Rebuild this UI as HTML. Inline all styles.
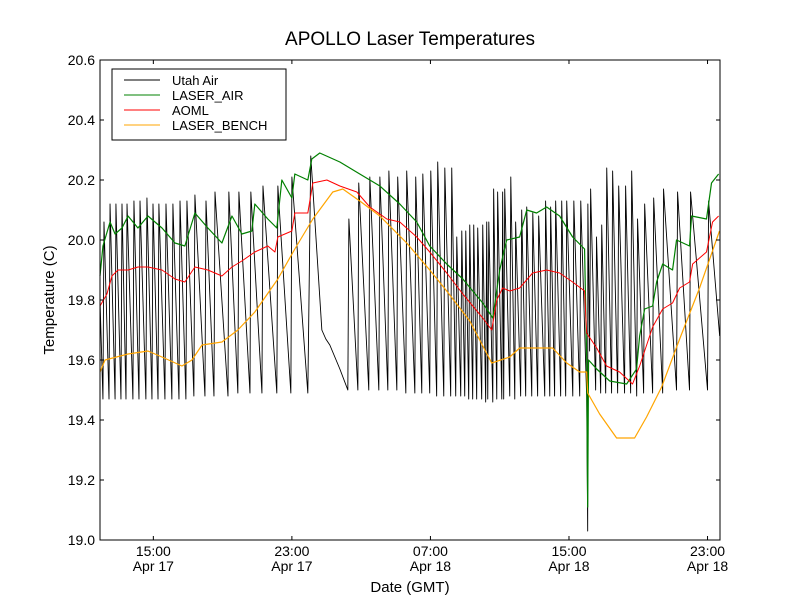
<!DOCTYPE html>
<html><head><meta charset="utf-8"><style>
body{margin:0;background:#fff;}
svg{display:block;font-family:"Liberation Sans","DejaVu Sans",sans-serif;}
</style></head><body>
<svg id="chart" width="800" height="600" viewBox="0 0 800 600">
<rect x="0" y="0" width="800" height="600" fill="#fff"/>
<text x="410" y="45" text-anchor="middle" font-size="19">APOLLO Laser Temperatures</text>
<text x="410" y="592" text-anchor="middle" font-size="15">Date (GMT)</text>
<text transform="translate(54,300) rotate(-90)" text-anchor="middle" font-size="15">Temperature (C)</text>
<g id="series"></g>
<g id="axes"></g>
<rect x="100" y="60" width="620" height="480" fill="none" stroke="#000" stroke-width="1"/>
<g>
<rect x="112" y="69" width="174" height="71" fill="#fff" stroke="#000" stroke-width="1"/>
<g><line x1="124" y1="80" x2="160" y2="80" stroke="#000" stroke-width="1"/><text x="172" y="85" font-size="13">Utah Air</text></g>
<g><line x1="124" y1="95" x2="160" y2="95" stroke="green" stroke-width="1"/><text x="172" y="100" font-size="13">LASER_AIR</text></g>
<g><line x1="124" y1="110" x2="160" y2="110" stroke="red" stroke-width="1"/><text x="172" y="115" font-size="13">AOML</text></g>
<g><line x1="124" y1="125" x2="160" y2="125" stroke="orange" stroke-width="1"/><text x="172" y="130" font-size="13">LASER_BENCH</text></g>
</g>
</svg>
<script>
// hours since Apr 17 00:00 GMT
const xTickHours = [15, 23, 31, 39, 47];
const xTickTimes = ["15:00", "23:00", "07:00", "15:00", "23:00"];
const xTickDates = ["Apr 17", "Apr 17", "Apr 18", "Apr 18", "Apr 18"];
const yTicks = [19.0, 19.2, 19.4, 19.6, 19.8, 20.0, 20.2, 20.4, 20.6];

const airT = [11.92,12.09,12.15,12.44,12.50,12.79,12.84,13.13,13.19,13.42,13.48,13.82,13.88,14.17,14.23,14.57,14.63,14.92,14.98,15.27,15.32,15.67,15.73,16.07,16.13,16.48,16.54,16.88,16.94,17.34,17.40,17.98,18.04,18.50,18.56,19.31,19.36,19.88,19.94,20.58,20.63,21.27,21.33,22.13,22.19,22.94,23.00,23.92,24.09,24.73,24.96,25.19,25.77,26.23,26.29,26.81,26.86,27.44,27.50,28.02,28.08,28.54,28.60,29.06,29.11,29.58,29.63,30.10,30.15,30.50,30.56,30.96,31.02,31.36,31.42,31.77,31.83,32.17,32.23,32.46,32.52,32.75,32.81,32.98,33.04,33.21,33.27,33.44,33.50,33.67,33.73,33.96,34.02,34.19,34.25,34.31,34.37,34.60,34.65,34.83,34.88,35.12,35.17,35.23,35.29,35.58,35.64,35.87,35.92,36.21,36.27,36.50,36.56,36.85,36.91,37.19,37.25,37.60,37.65,37.89,37.94,38.17,38.23,38.52,38.58,38.81,38.87,39.22,39.28,39.62,39.68,40.02,40.08,40.09,40.19,40.25,40.54,40.59,40.83,40.89,41.12,41.18,41.46,41.52,41.81,41.87,42.21,42.27,42.56,42.62,42.91,42.96,43.31,43.37,43.83,43.89,44.41,44.46,45.21,45.27,45.96,46.02,47.00,47.06,47.70];
const airV = [19.80,19.47,20.06,19.47,20.12,19.47,20.12,19.47,20.12,19.47,20.12,19.47,20.13,19.47,20.13,19.47,20.14,19.47,20.12,19.47,20.12,19.47,20.12,19.47,20.12,19.47,20.13,19.47,20.13,19.48,20.15,19.48,20.13,19.48,20.16,19.48,20.16,19.49,20.16,19.49,20.16,19.49,20.18,19.49,20.18,19.49,20.21,19.49,20.28,19.70,19.67,19.65,19.57,19.50,20.07,19.50,20.19,19.50,20.21,19.50,20.21,19.50,20.23,19.50,20.21,19.49,20.23,19.49,20.21,19.49,20.22,19.49,20.23,19.48,20.26,19.48,20.24,19.48,20.24,19.48,20.01,19.48,20.03,19.48,20.03,19.47,20.05,19.47,20.05,19.47,20.04,19.47,20.05,19.46,20.06,19.47,20.06,19.46,20.17,19.47,20.16,19.47,20.16,19.47,20.17,19.48,20.21,19.47,20.06,19.48,20.10,19.48,20.11,19.48,20.09,19.48,20.08,19.48,20.13,19.48,20.11,19.48,20.13,19.48,20.13,19.48,20.13,19.48,20.13,19.48,20.13,19.48,19.03,20.12,19.63,20.17,19.50,20.01,19.49,20.05,19.49,20.24,19.49,20.23,19.49,20.18,19.49,20.18,19.49,20.23,19.48,20.07,19.49,20.12,19.49,20.14,19.49,20.17,19.50,20.16,19.50,20.16,19.50,20.13,19.68];

const greenT = [11.92,12.09,12.50,12.79,13.19,13.54,14.11,14.69,15.50,16.25,16.82,17.40,18.15,18.96,19.54,20.11,20.69,20.86,21.61,22.13,22.42,23.00,23.17,23.92,24.15,24.61,25.77,26.92,28.08,29.23,30.21,30.96,31.94,32.87,34.02,34.60,35.00,35.40,36.15,36.56,37.13,37.71,38.46,39.21,39.90,40.02,40.08,40.13,40.60,41.35,42.33,42.90,43.08,43.37,43.83,44.06,44.41,44.98,45.21,45.96,46.08,46.94,47.23,47.64];
const greenV = [19.88,19.98,20.06,20.02,20.04,20.08,20.04,20.08,20.04,19.99,19.98,20.09,20.04,19.99,20.08,20.02,20.03,20.12,20.07,20.04,20.20,20.14,20.22,20.20,20.27,20.29,20.26,20.22,20.18,20.12,20.06,19.98,19.92,19.87,19.79,19.74,19.90,20.00,20.01,20.10,20.09,20.11,20.08,20.01,19.97,19.61,19.11,19.60,19.57,19.53,19.52,19.57,19.68,19.77,19.78,19.86,19.92,19.90,20.00,19.98,20.08,20.07,20.19,20.22];

const redT = [11.92,12.32,12.61,12.96,13.54,14.11,14.69,15.50,16.25,16.82,17.40,18.15,18.96,19.54,20.11,20.86,21.61,22.02,22.19,23.00,23.17,23.92,24.21,25.02,25.77,26.75,27.50,28.48,29.23,30.21,30.96,31.94,32.87,34.02,34.54,34.83,35.17,35.58,36.15,36.90,37.71,38.46,39.21,39.90,40.02,40.60,41.17,41.92,42.67,43.08,43.37,43.83,44.41,44.98,45.39,45.96,46.14,46.94,47.29,47.64];
const redV = [19.78,19.82,19.88,19.90,19.90,19.91,19.91,19.90,19.87,19.86,19.91,19.90,19.88,19.91,19.93,19.96,19.98,19.96,20.01,20.03,20.09,20.09,20.19,20.20,20.18,20.16,20.11,20.07,20.06,20.01,19.96,19.89,19.82,19.74,19.70,19.80,19.84,19.83,19.84,19.89,19.90,19.89,19.86,19.83,19.69,19.64,19.58,19.56,19.52,19.58,19.63,19.71,19.77,19.79,19.84,19.86,19.92,19.96,20.06,20.08];

const benchT = [11.92,12.21,13.54,14.69,15.50,16.65,17.23,17.81,18.96,19.88,20.86,22.19,23.17,24.21,25.36,25.94,26.92,28.08,29.63,30.96,31.94,33.27,34.54,35.58,36.15,37.13,38.06,38.87,39.62,40.02,40.08,40.77,41.75,42.79,43.48,44.35,45.39,46.54,47.69];
const benchV = [19.56,19.60,19.62,19.63,19.61,19.58,19.60,19.65,19.66,19.70,19.76,19.87,19.97,20.07,20.16,20.17,20.13,20.08,19.99,19.90,19.83,19.73,19.59,19.61,19.64,19.64,19.64,19.59,19.56,19.56,19.49,19.42,19.34,19.34,19.41,19.51,19.67,19.84,20.03];

const X0 = 100, X1 = 720, Y0 = 540, Y1 = 60;
const tMin = 11.92, tMax = 47.72, vMin = 19.0, vMax = 20.6;
function xs(t){ return X0 + (t - tMin) / (tMax - tMin) * (X1 - X0); }
function ys(v){ return Y0 - (v - vMin) / (vMax - vMin) * (Y0 - Y1); }
const NS = "http://www.w3.org/2000/svg";
const seriesG = document.getElementById('series');
const axesG = document.getElementById('axes');

function drawLine(ts, vs, color, w, name){
  let d = "";
  for (let i = 0; i < ts.length; i++) d += (i ? "L" : "M") + xs(ts[i]).toFixed(2) + "," + ys(vs[i]).toFixed(2);
  const p = document.createElementNS(NS, 'path');
  p.setAttribute('d', d);
  p.setAttribute('fill', 'none');
  p.setAttribute('stroke', color);
  p.setAttribute('stroke-width', w);
  p.setAttribute('stroke-linejoin', 'round');
  
  
  seriesG.appendChild(p);
}
drawLine(airT, airV, '#000', 0.9, 'utah-air-line');
drawLine(greenT, greenV, 'green', 1.2, 'laser-air-line');
drawLine(redT, redV, 'red', 1, 'aoml-line');
drawLine(benchT, benchV, 'orange', 1.2, 'laser-bench-line');

function mk(tag, attrs){
  const e = document.createElementNS(NS, tag);
  for (const k in attrs) e.setAttribute(k, attrs[k]);
  return e;
}
for (let i = 0; i < yTicks.length; i++) {
  const y = ys(yTicks[i]);
  const g = mk('g', {});
  
  
  g.appendChild(mk('line', {x1: X0, y1: y, x2: X0 + 4, y2: y, stroke: '#000'}));
  g.appendChild(mk('line', {x1: X1, y1: y, x2: X1 - 4, y2: y, stroke: '#000'}));
  const t = mk('text', {x: 95, y: y + 5, 'text-anchor': 'end', 'font-size': 14});
  t.textContent = yTicks[i].toFixed(1);
  g.appendChild(t);
  axesG.appendChild(g);
}
for (let i = 0; i < xTickHours.length; i++) {
  const x = xs(xTickHours[i]);
  const g = mk('g', {});
  
  
  g.appendChild(mk('line', {x1: x, y1: Y0, x2: x, y2: Y0 - 4, stroke: '#000'}));
  g.appendChild(mk('line', {x1: x, y1: Y1, x2: x, y2: Y1 + 4, stroke: '#000'}));
  const t1 = mk('text', {x: x, y: 556, 'text-anchor': 'middle', 'font-size': 14});
  t1.textContent = xTickTimes[i];
  const t2 = mk('text', {x: x, y: 571, 'text-anchor': 'middle', 'font-size': 14});
  t2.textContent = xTickDates[i];
  g.appendChild(t1); g.appendChild(t2);
  axesG.appendChild(g);
}
</script>
</body></html>
